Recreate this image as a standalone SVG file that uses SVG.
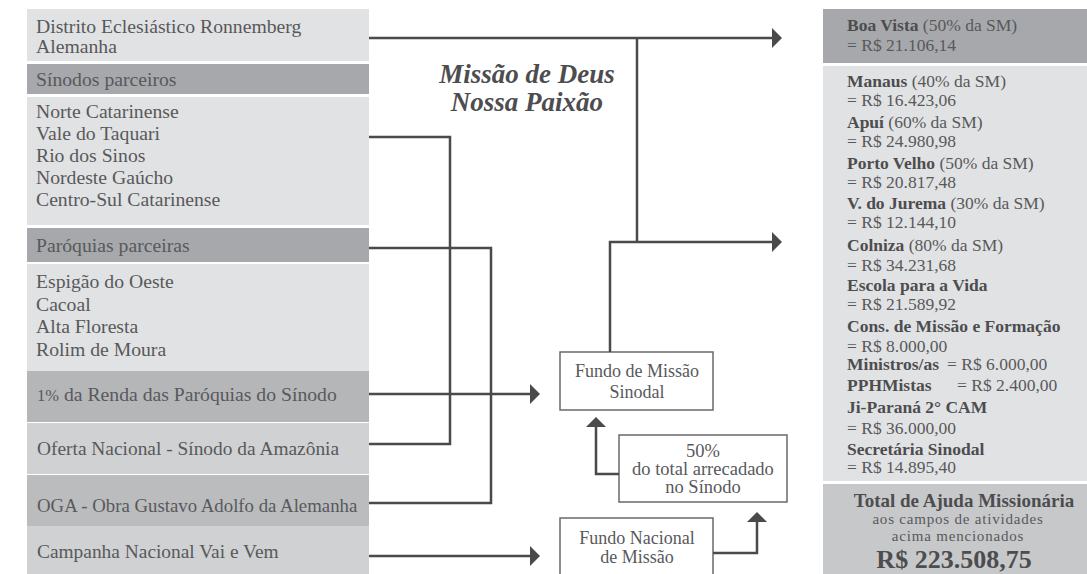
<svg xmlns="http://www.w3.org/2000/svg" width="1087" height="574" viewBox="0 0 1087 574">
<style>
text{font-family:"Liberation Serif","Times New Roman",serif;fill:#58595b}
.l{font-size:19.7px}
.r{font-size:17.5px}
.b{font-weight:bold;fill:#4d4d4f}
.c{text-anchor:middle}
.light{fill:#e1e2e4}
.dark{fill:#a7a8ab}
.mid{fill:#b5b6b8}
.pale{fill:#d0d1d3}
.oga{fill:#bbbcbe}
.tot{fill:#c7c8ca}
.box{fill:#fff;stroke:#6a6a6c;stroke-width:1.5}
.con{fill:none;stroke:#4a4a4c;stroke-width:2.5}
.ah{fill:#4a4a4c}
</style>
<rect width="1087" height="574" fill="#fff"/>
<g id="distrito"><rect class="light" x="27" y="9" width="342" height="52"/>
<text class="l" x="36" y="33">Distrito Eclesiástico Ronnemberg</text>
<text class="l" x="36" y="53">Alemanha</text></g>
<g id="sinodos-header"><rect class="dark" x="27" y="64" width="342" height="30"/>
<text class="l" x="36" y="86">Sínodos parceiros</text></g>
<g id="sinodos"><rect class="light" x="27" y="97" width="342" height="128"/>
<text class="l" x="36" y="118">Norte Catarinense</text>
<text class="l" x="36" y="140">Vale do Taquari</text>
<text class="l" x="36" y="162">Rio dos Sinos</text>
<text class="l" x="36" y="184">Nordeste Gaúcho</text>
<text class="l" x="36" y="206">Centro-Sul Catarinense</text></g>
<g id="paroquias-header"><rect class="dark" x="27" y="228" width="342" height="34"/>
<text class="l" x="36" y="252">Paróquias parceiras</text></g>
<g id="paroquias"><rect class="light" x="27" y="264" width="342" height="107"/>
<text class="l" x="36" y="288">Espigão do Oeste</text>
<text class="l" x="36" y="311">Cacoal</text>
<text class="l" x="36" y="333">Alta Floresta</text>
<text class="l" x="36" y="356">Rolim de Moura</text></g>
<g id="renda"><rect class="mid" x="27" y="371" width="342" height="51"/>
<text class="l" x="37" y="401"><tspan font-size="16.5px">1%</tspan> da Renda das Paróquias do Sínodo</text></g>
<g id="oferta"><rect class="pale" x="27" y="423" width="342" height="51"/>
<text x="37" y="455" style="font-size:19.4px">Oferta Nacional - Sínodo da Amazônia</text></g>
<g id="oga"><rect class="oga" x="27" y="475" width="342" height="51"/>
<text x="37" y="512" style="font-size:18.8px">OGA - Obra Gustavo Adolfo da Alemanha</text></g>
<g id="campanha"><rect class="pale" x="27" y="526" width="342" height="48"/>
<text x="37" y="558" style="font-size:19.4px">Campanha Nacional Vai e Vem</text></g>
<g id="titulo">
<text class="b c" x="527" y="83" font-size="27px" font-style="italic">Missão de Deus</text>
<text class="b c" x="527" y="111" font-size="27px" font-style="italic">Nossa Paixão</text></g>
<g id="fundo-sinodal"><rect class="box" x="560" y="352" width="153" height="58"/>
<text class="c" x="637" y="377" font-size="18px">Fundo de Missão</text>
<text class="c" x="637" y="398" font-size="18px">Sinodal</text></g>
<g id="cinquenta"><rect class="box" x="619" y="435" width="168" height="67"/>
<text class="c" x="703" y="457" font-size="18.5px">50%</text>
<text class="c" x="703" y="475" font-size="18.5px">do total arrecadado</text>
<text class="c" x="703" y="493" font-size="18.5px">no Sínodo</text></g>
<g id="fundo-nacional"><rect class="box" x="560" y="518" width="153" height="70"/>
<text class="c" x="637" y="544" font-size="18px">Fundo Nacional</text>
<text class="c" x="637" y="563" font-size="18px">de Missão</text></g>
<g id="boa-vista"><rect class="dark" x="823" y="9" width="264" height="54"/>
<text class="r" x="847" y="31"><tspan class="b">Boa Vista</tspan> (50% da SM)</text>
<text class="r" x="847" y="51">= R$ 21.106,14</text></g>
<g id="campos"><rect class="light" x="823" y="66" width="264" height="415"/>
<text class="r" x="847" y="87"><tspan class="b">Manaus</tspan> (40% da SM)</text>
<text class="r" x="847" y="106">= R$ 16.423,06</text>
<text class="r" x="847" y="128"><tspan class="b">Apuí</tspan> (60% da SM)</text>
<text class="r" x="847" y="147">= R$ 24.980,98</text>
<text class="r" x="847" y="169"><tspan class="b">Porto Velho</tspan> (50% da SM)</text>
<text class="r" x="847" y="188">= R$ 20.817,48</text>
<text class="r" x="847" y="209"><tspan class="b">V. do Jurema</tspan> (30% da SM)</text>
<text class="r" x="847" y="228">= R$ 12.144,10</text>
<text class="r" x="847" y="251"><tspan class="b">Colniza</tspan> (80% da SM)</text>
<text class="r" x="847" y="271">= R$ 34.231,68</text>
<text class="r b" x="847" y="291">Escola para a Vida</text>
<text class="r" x="847" y="310">= R$ 21.589,92</text>
<text class="r b" x="847" y="332">Cons. de Missão e Formação</text>
<text class="r" x="847" y="352">= R$ 8.000,00</text>
<text class="r b" x="847" y="370">Ministros/as</text>
<text class="r" x="947" y="370">= R$ 6.000,00</text>
<text class="r b" x="847" y="391">PPHMistas</text>
<text class="r" x="957" y="391">= R$ 2.400,00</text>
<text class="r b" x="847" y="413">Ji-Paraná 2° CAM</text>
<text class="r" x="847" y="434">= R$ 36.000,00</text>
<text class="r b" x="847" y="455">Secretária Sinodal</text>
<text class="r" x="847" y="473">= R$ 14.895,40</text></g>
<g id="total"><rect class="tot" x="823" y="484" width="264" height="90"/>
<text class="b c" x="964" y="506.5" font-size="19px">Total de Ajuda Missionária</text>
<text class="c" x="958" y="524" font-size="15px" letter-spacing="0.8">aos campos de atividades</text>
<text class="c" x="958" y="541" font-size="15px" letter-spacing="0.8">acima mencionados</text>
<text class="b c" x="954" y="568" font-size="26px">R$ 223.508,75</text></g>
<g id="connectors">
<path class="con" d="M369,38 H773"/>
<path class="con" d="M637,38 V242"/>
<path class="con" d="M610,352 V242 H773"/>
<path class="con" d="M369,137 H450 V444 H369"/>
<path class="con" d="M369,248 H491 V503 H369"/>
<path class="con" d="M369,394 H531"/>
<path class="con" d="M369,556 H531"/>
<path class="con" d="M619,474 H596 V426"/>
<path class="con" d="M713,553 H757 V521"/>
<polygon class="ah" points="772,28 782,38 772,48"/>
<polygon class="ah" points="772,232 782,242 772,252"/>
<polygon class="ah" points="530,384 540,394 530,404"/>
<polygon class="ah" points="530,546 540,556 530,566"/>
<polygon class="ah" points="586,427 596,417 606,427"/>
<polygon class="ah" points="747,522 757,512 767,522"/>
</g>
</svg>
